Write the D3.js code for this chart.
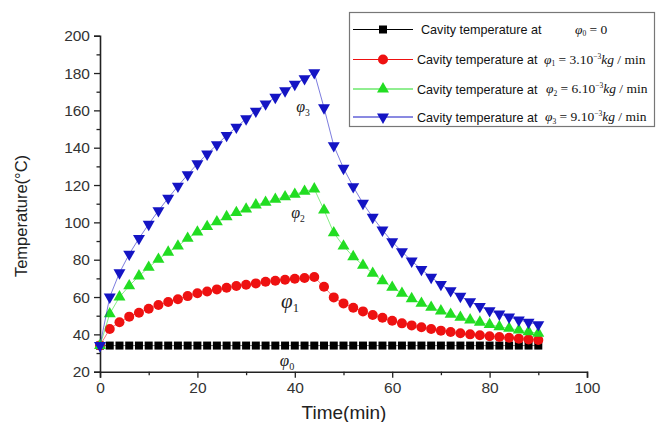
<!DOCTYPE html>
<html><head><meta charset="utf-8">
<script src="https://cdn.jsdelivr.net/npm/d3@7"></script>
<style>
html,body{margin:0;padding:0;background:#fff;}
svg{display:block;}
</style></head>
<body>
<svg id="chart" width="656" height="422"></svg>
<script>
const times = [0,2,4,6,8,10,12,14,16,18,20,22,24,26,28,30,32,34,36,38,40,42,44,
  46,48,50,52,54,56,58,60,62,64,66,68,70,72,74,76,78,80,82,84,86,88,90];
const phi0 = [34,34,34,34,34,34,34,34,34,34,34,34,34,34,34,34,34,34,34,34,34,34,34,
  34,34,34,34,34,34,34,34,34,34,34,34,34,34,34,34,34,34,34,34,34,34,34];
const phi1 = [34,42.9,46.5,49.5,51.6,53.7,55.7,57.3,58.8,60.5,62,63,64.1,65,65.9,66.6,67.3,68.2,68.7,69.3,69.8,70.2,70.7,
  65.5,59.8,56.6,54.3,52.3,50.4,48.9,47.3,45.9,44.8,43.8,42.9,42,41.3,40.6,40,39.5,39,38.6,38.2,37.7,37.3,37];
const phi2 = [34,51,60,66,71.3,75.9,80.2,84,87.3,91.4,94.8,97.7,100.3,103,105.2,107.1,109.3,110.7,112.3,113.7,115,116.6,117.9,
  106.6,94.4,87.3,81.6,77,72.7,68.7,65.2,62,59.1,56.6,54.5,52.5,50.7,49.1,47.7,46.5,45.2,44.1,43.2,42.3,41.4,40.6];
const phi3 = [34,60,73,83,91.4,99,106.3,113,119.4,125.6,131.4,136.6,141.6,146.6,151,155.5,159.6,163.5,167,170.5,174,177,180.2,
  161.4,141.1,129,119.1,110.2,102.7,95.9,89.6,84.3,79.3,74.8,70.6,66.8,63.4,60.4,57.5,55,52.7,50.9,49.3,47.7,46.5,45.2];
const xTicks = [0,20,40,60,80,100];
const yTicks = [20,40,60,80,100,120,140,160,180,200];
const legendPrefix = "Cavity temperature at";
const legendRates = ["0","3.10","6.10","9.10"];

const colors = ["#000000","#ee1111","#22dd22","#1414c4"];
const symbols = ["square","circle","triangle","triangleDown"];

const svg = d3.select("#chart");
const x = d3.scaleLinear().domain([0,100]).range([100,587]);
const y = d3.scaleLinear().domain([20,200]).range([371.7,35.7]);

// axes
const axisColor = "#222";
const xAxis = svg.append("g").attr("transform","translate(0,371.7)")
  .call(d3.axisBottom(x).tickValues(xTicks).tickSize(6).tickPadding(4).tickFormat(d3.format("d")));
const xMinor = svg.append("g").attr("transform","translate(0,371.7)")
  .call(d3.axisBottom(x).tickValues(xTicks.slice(0,-1).map(v=>v+10)).tickSize(3.5).tickFormat(""));
const yAxis = svg.append("g").attr("transform","translate(100,0)")
  .call(d3.axisLeft(y).tickValues(yTicks).tickSize(6).tickPadding(4).tickFormat(d3.format("d")));
const yMinor = svg.append("g").attr("transform","translate(100,0)")
  .call(d3.axisLeft(y).tickValues(yTicks.slice(0,-1).map(v=>v+10)).tickSize(3.5).tickFormat(""));
[xAxis,xMinor,yAxis,yMinor].forEach(g=>{
  g.select(".domain").attr("stroke",axisColor).attr("stroke-width",1.6);
  g.selectAll(".tick line").attr("stroke",axisColor).attr("stroke-width",1.3);
  g.selectAll("text").attr("fill","#333").style("font-family","'Liberation Sans',Arial,sans-serif").style("font-size","15.5px");
});
xMinor.select(".domain").remove(); yMinor.select(".domain").remove();

svg.append("text").attr("x",344).attr("y",419)
  .attr("text-anchor","middle").attr("fill","#222")
  .style("font-family","'Liberation Sans',Arial,sans-serif").style("font-size","19px")
  .text("Time(min)");
svg.append("text").attr("transform","translate(27,216) rotate(-90)")
  .attr("text-anchor","middle").attr("fill","#222")
  .style("font-family","'Liberation Sans',Arial,sans-serif").style("font-size","16.5px")
  .text("Temperature(°C)");

// series
const all = [phi0,phi1,phi2,phi3];
const line = d3.line().x(d=>x(d[0])).y(d=>y(d[1]));
function marker(g, type, color, cx, cy){
  if(type==="square"){
    g.append("rect").attr("x",cx-4).attr("y",cy-4).attr("width",8).attr("height",8).attr("fill",color);
  } else if(type==="circle"){
    g.append("circle").attr("cx",cx).attr("cy",cy).attr("r",5).attr("fill",color);
  } else if(type==="triangle"){
    g.append("path").attr("d",d3.symbol(d3.symbolTriangle,62)()).attr("transform",`translate(${cx},${cy})`).attr("fill",color);
  } else {
    g.append("path").attr("d",d3.symbol(d3.symbolTriangle,62)()).attr("transform",`translate(${cx},${cy}) rotate(180)`).attr("fill",color);
  }
}
all.forEach((vals,i)=>{
  const pts = times.map((t,j)=>[t,vals[j]]);
  const g = svg.append("g");
  g.append("path").attr("d",line(pts)).attr("fill","none").attr("stroke",colors[i]).attr("stroke-width",0.8).attr("stroke-opacity",0.7);
  pts.forEach(p=>marker(g,symbols[i],colors[i],x(p[0]),y(p[1])));
});

// phi labels on curves
const labelPos = [[287,366,17],[290,308,21],[298,218,16],[303,112,16]];
labelPos.forEach((p,i)=>{
  const t = svg.append("text").attr("x",p[0]).attr("y",p[1]).attr("text-anchor","middle")
    .style("font-family","'Liberation Serif','Times New Roman',serif").style("font-size",p[2]+"px").attr("fill","#222");
  t.append("tspan").style("font-style","italic").text("φ");
  t.append("tspan").attr("dy",4).style("font-size",(p[2]*0.6)+"px").text(String(i));
});

// legend
const lg = svg.append("g");
lg.append("rect").attr("x",349.5).attr("y",12.5).attr("width",305).attr("height",114)
  .attr("fill","#fff").attr("stroke","#777").attr("stroke-width",1.2);
const rowsY = [29.5,59.5,89,117];
const textX = [421,417,417,417];
const formX = [575,544,546,545];
rowsY.forEach((ry,i)=>{
  lg.append("line").attr("x1",353).attr("x2",413).attr("y1",ry).attr("y2",ry).attr("stroke",colors[i]).attr("stroke-width",1);
  marker(lg,symbols[i],colors[i],383,ry);
  lg.append("text").attr("x",textX[i]).attr("y",ry+4.5).attr("fill","#111")
    .style("font-family","'Liberation Sans',Arial,sans-serif").style("font-size","12.6px").text(legendPrefix);
  const f = lg.append("text").attr("x",formX[i]).attr("y",ry+4).attr("fill","#111")
    .style("font-family","'Liberation Serif','Times New Roman',serif").style("font-size","13.5px");
  f.append("tspan").style("font-style","italic").text("φ");
  f.append("tspan").attr("dy",2.5).style("font-size","7.5px").text(String(i));
  if(i===0){
    f.append("tspan").attr("dy",-2.5).text(" = " + legendRates[i]);
  } else {
    f.append("tspan").attr("dy",-2.5).text(" = " + legendRates[i]);
    f.append("tspan").attr("dy",-5).style("font-size","7.5px").text("−3");
    f.append("tspan").attr("dy",5).style("font-style","italic").text("kg");
    f.append("tspan").text(" / min");
  }
});
</script>
</body></html>
